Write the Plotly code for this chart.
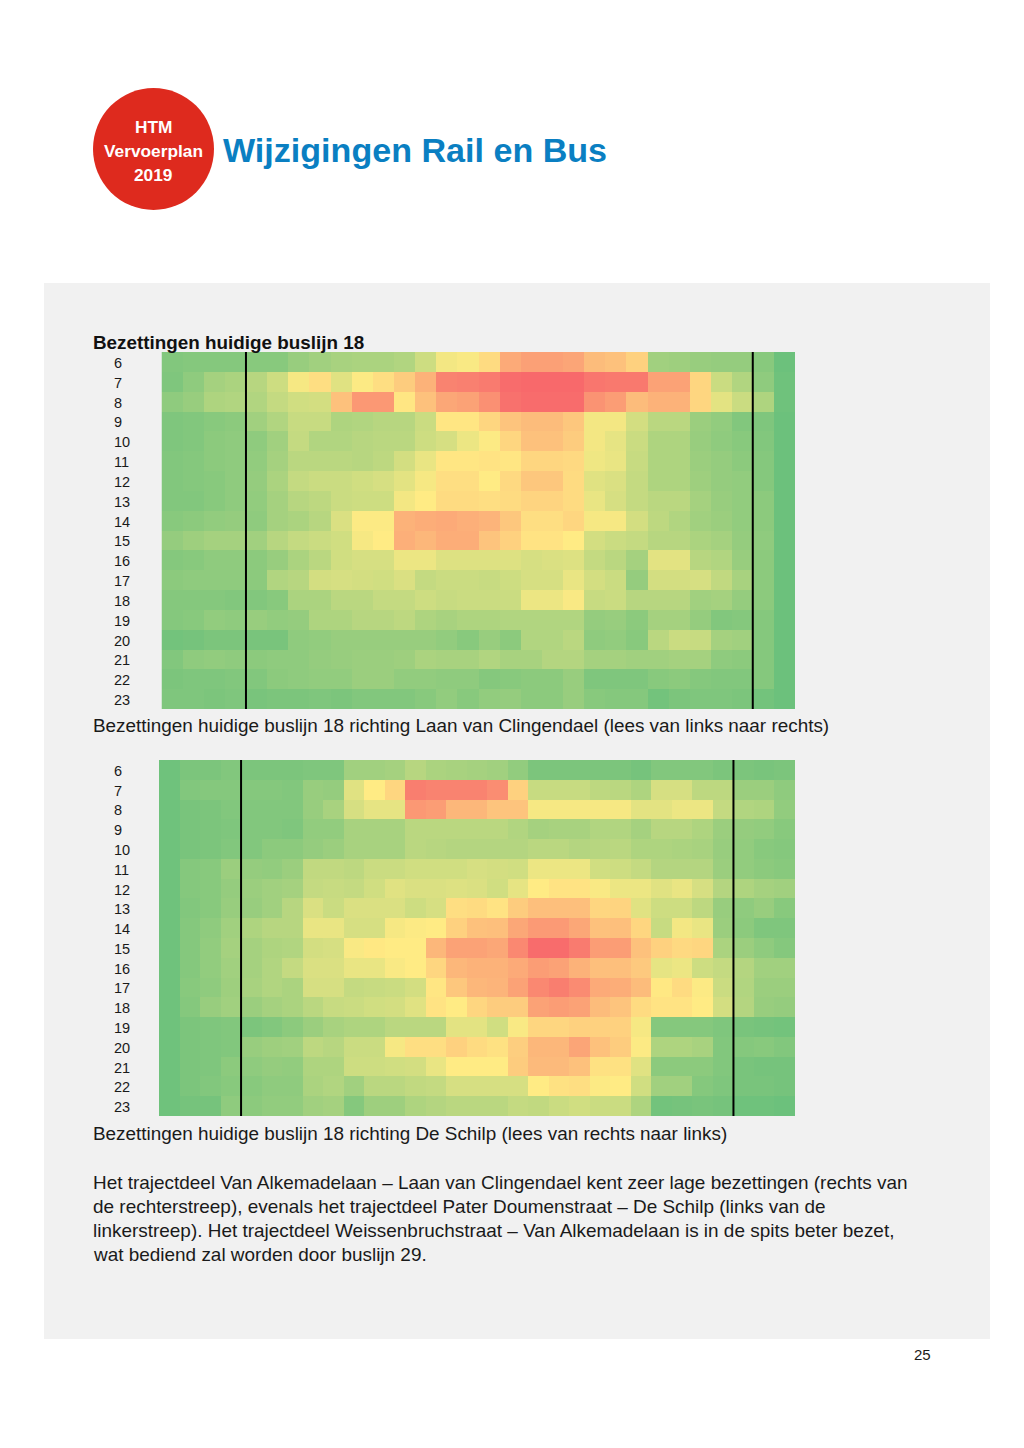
import plotly.graph_objects as go

HOURS = list(range(6, 24))

LINE18_TO_CLINGENDAEL = [
 [10,11,11,11,12,12,17,20,22,23,23,25,34,46,48,56,75,79,79,77,68,66,60,20,19,17,16,16,12,3],
 [9,14,21,23,27,34,47,55,40,49,55,62,72,90,91,93,99,100,100,100,95,94,94,78,78,58,33,25,14,4],
 [14,17,24,25,25,31,35,36,66,82,82,52,66,76,78,85,97,99,99,99,84,80,68,72,72,58,41,33,24,4],
 [9,10,12,13,20,25,32,32,24,25,27,27,33,52,52,58,65,68,68,64,46,46,36,28,28,18,15,10,9,3],
 [9,10,13,14,14,20,31,25,25,27,28,28,34,37,44,49,58,66,66,62,46,42,33,24,24,17,14,12,10,3],
 [10,11,13,14,15,21,28,28,28,27,29,36,43,52,52,53,52,58,58,57,45,43,32,24,24,18,16,13,11,3],
 [10,11,12,14,16,23,31,33,33,35,37,41,47,55,55,50,57,64,64,56,40,38,31,24,24,19,16,15,11,3],
 [10,10,12,14,15,21,27,29,33,34,34,46,50,56,56,55,56,59,59,56,43,37,31,28,28,21,17,15,13,3],
 [12,13,15,16,14,21,23,27,38,49,49,72,74,75,73,71,64,55,55,58,47,47,36,29,25,20,18,15,13,3],
 [16,19,21,21,20,27,31,33,35,47,50,73,70,74,74,65,60,53,53,50,36,33,31,27,27,23,21,16,14,3],
 [11,12,14,14,13,17,23,28,35,37,37,44,44,39,39,39,39,37,38,39,31,28,21,41,41,27,25,17,13,3],
 [13,14,14,14,13,25,27,36,37,36,35,38,31,33,33,32,34,37,37,43,36,33,16,36,36,37,30,22,13,3],
 [11,11,11,10,10,12,23,23,28,28,31,31,34,32,33,33,33,44,44,48,32,33,27,27,27,20,21,16,13,3],
 [11,12,15,14,17,15,16,24,24,27,27,29,24,22,24,24,25,25,25,25,16,17,13,21,21,16,10,11,11,3],
 [5,6,8,8,7,7,14,15,17,17,17,17,17,15,12,17,13,25,25,28,14,15,12,28,33,32,21,20,11,3],
 [10,14,15,14,13,14,14,16,17,18,18,19,23,22,22,25,22,22,26,26,21,21,20,20,21,21,14,13,11,3],
 [8,9,9,10,10,13,14,15,15,18,18,15,15,14,14,11,12,13,13,17,9,9,9,12,13,11,10,10,11,3],
 [9,9,8,9,7,8,8,9,8,10,10,10,12,15,12,15,16,13,13,17,12,11,11,5,8,9,9,8,5,3],
]

LINE18_TO_SCHILP = [
 [4,8,8,10,8,8,8,9,9,20,20,21,27,23,22,21,20,15,8,8,8,8,8,6,10,10,10,8,8,7,8],
 [4,10,11,11,11,11,10,17,16,40,50,58,92,90,90,90,86,60,32,32,32,29,28,24,37,37,29,29,18,18,14],
 [4,7,8,10,10,10,10,17,22,37,42,42,82,80,70,70,65,65,47,47,47,47,47,41,41,44,44,31,25,24,15],
 [4,7,8,9,10,10,9,15,15,22,22,22,28,28,28,28,28,25,21,22,22,25,25,21,27,27,24,18,16,15,12],
 [4,7,8,10,10,13,13,16,18,22,22,22,28,27,26,26,26,26,28,28,26,27,28,24,24,23,22,17,15,12,11],
 [4,11,12,18,16,15,18,30,30,29,33,33,35,35,35,37,36,35,44,44,44,35,34,31,26,26,26,18,15,13,12],
 [4,11,12,16,18,20,21,31,32,31,35,40,38,38,39,38,35,42,50,53,53,48,44,44,40,43,37,26,24,21,20],
 [4,10,12,17,17,20,27,38,33,38,38,38,34,37,55,56,53,62,67,67,67,58,59,40,34,34,29,17,14,17,12],
 [4,11,14,20,24,27,27,43,43,37,37,47,49,50,60,66,67,76,81,81,76,66,67,58,32,46,43,18,13,9,9],
 [4,11,15,21,21,24,25,36,37,48,51,50,50,70,78,78,76,88,99,99,93,80,80,66,60,57,58,23,18,14,11],
 [4,11,15,20,21,25,31,38,38,43,43,48,50,58,70,72,72,75,80,78,72,67,67,63,42,44,34,31,26,20,20],
 [4,12,14,19,22,25,23,37,37,31,32,33,36,52,64,70,71,78,88,92,87,75,74,68,51,56,49,33,25,18,18],
 [4,11,17,20,18,21,23,28,32,33,35,36,40,53,50,58,62,62,78,80,78,68,65,56,53,53,50,36,26,17,16],
 [4,8,9,10,8,10,13,18,22,24,24,28,28,28,41,41,35,48,58,58,60,60,60,47,11,11,11,9,7,6,5],
 [4,8,9,10,17,19,20,29,27,33,33,47,55,55,60,56,54,61,70,70,77,66,62,49,24,24,22,10,11,12,10],
 [4,8,9,13,14,16,15,24,24,34,34,35,36,43,50,50,50,62,69,69,66,54,54,40,13,13,13,10,7,6,6],
 [4,8,10,12,12,14,14,23,25,20,28,28,30,31,37,37,37,37,50,54,55,49,50,35,20,20,11,9,7,7,6],
 [4,6,6,14,13,15,15,20,21,11,19,19,24,26,28,28,28,31,30,33,35,33,33,24,5,6,7,6,4,4,3],
]

DIVIDERS_1 = [3.5, 27.5]
DIVIDERS_2 = [3.5, 27.5]

TITLE = "Wijzigingen Rail en Bus"
BADGE = ["HTM", "Vervoerplan", "2019"]
HEADING = "Bezettingen huidige buslijn 18"
CAPTION_1 = "Bezettingen huidige buslijn 18 richting Laan van Clingendael (lees van links naar rechts)"
CAPTION_2 = "Bezettingen huidige buslijn 18 richting De Schilp (lees van rechts naar links)"
BODY = [
    "Het trajectdeel Van Alkemadelaan – Laan van Clingendael kent zeer lage bezettingen (rechts van",
    "de rechterstreep), evenals het trajectdeel Pater Doumenstraat – De Schilp (links van de",
    "linkerstreep). Het trajectdeel Weissenbruchstraat – Van Alkemadelaan is in de spits beter bezet,",
    "wat bediend zal worden door buslijn 29.",
]
PAGE_NO = "25"

W, H = 1024, 1448
FONT = "Liberation Sans"
SCALE = [[0, "#63BE7B"], [0.5, "#FFEB84"], [1, "#F8696B"]]


def fx(p):
    return p / W


def fy(p):
    return 1 - p / H


def text(x, y, s, size, color="#1a1a1a", bold=False, anchor="left"):
    return dict(
        xref="paper", yref="paper", x=fx(x), y=fy(y), text=f"<b>{s}</b>" if bold else s,
        showarrow=False, xanchor=anchor, yanchor="middle", borderpad=0, borderwidth=0,
        font=dict(family=FONT, size=size, color=color),
    )


fig = go.Figure()
fig.add_trace(go.Heatmap(z=LINE18_TO_CLINGENDAEL, y=HOURS, zmin=0, zmax=100, colorscale=SCALE,
                         showscale=False, xaxis="x", yaxis="y", xgap=0, ygap=0))
fig.add_trace(go.Heatmap(z=LINE18_TO_SCHILP, y=HOURS, zmin=0, zmax=100, colorscale=SCALE,
                         showscale=False, xaxis="x2", yaxis="y2", xgap=0, ygap=0))

shapes = [
    dict(type="rect", xref="paper", yref="paper", x0=fx(44), x1=fx(990), y0=fy(283), y1=fy(1339),
         fillcolor="#F1F1F1", line_width=0, layer="below"),
    dict(type="circle", xref="paper", yref="paper", x0=fx(93), x1=fx(214), y0=fy(88), y1=fy(210),
         fillcolor="#DE2A1E", line_width=0, layer="below"),
]
for v in DIVIDERS_1:
    shapes.append(dict(type="line", xref="x", yref="y domain", x0=v, x1=v, y0=0, y1=1,
                       line=dict(color="#000000", width=2)))
for v in DIVIDERS_2:
    shapes.append(dict(type="line", xref="x2", yref="y2 domain", x0=v, x1=v, y0=0, y1=1,
                       line=dict(color="#000000", width=2)))

annotations = [
    text(223, 150, TITLE, 34.1, color="#0A7FC2", bold=True),
    text(153, 127, BADGE[0], 17.3, color="#ffffff", bold=True, anchor="center"),
    text(153, 151.5, BADGE[1], 17.3, color="#ffffff", bold=True, anchor="center"),
    text(153, 175.5, BADGE[2], 17.3, color="#ffffff", bold=True, anchor="center"),
    text(93, 342.5, HEADING, 18.85, color="#111111", bold=True),
    text(93, 725, CAPTION_1, 18.9),
    text(93, 1133, CAPTION_2, 18.9),
    text(914, 1354, PAGE_NO, 15),
]
for y, line in zip([1182, 1206, 1230, 1254], BODY):
    annotations.append(text(93, y, line, 18.95))
for h in HOURS:
    for axis in ("y", "y2"):
        annotations.append(dict(xref="paper", yref=axis, x=fx(113), y=h, yshift=-1, text=str(h),
                                showarrow=False, xanchor="left", yanchor="middle", borderpad=0,
                                font=dict(family=FONT, size=14.5, color="#1a1a1a")))

hidden = dict(visible=False, showgrid=False, zeroline=False)
fig.update_layout(
    width=W, height=H, margin=dict(l=0, r=0, t=0, b=0), autosize=False,
    paper_bgcolor="#ffffff", plot_bgcolor="rgba(0,0,0,0)", showlegend=False,
    shapes=shapes, annotations=annotations,
    xaxis=dict(domain=[fx(161.5), fx(795)], range=[-0.5, 29.5], **hidden),
    yaxis=dict(domain=[fy(709), fy(352)], range=[23.5, 5.5], **hidden),
    xaxis2=dict(domain=[fx(159), fx(795)], range=[-0.5, 30.5], anchor="y2", **hidden),
    yaxis2=dict(domain=[fy(1116), fy(760)], range=[23.5, 5.5], anchor="x2", **hidden),
)

fig.write_html("out.html", config={"displayModeBar": False},
               post_script="document.body.style.margin='0';document.body.style.overflow='hidden';")
